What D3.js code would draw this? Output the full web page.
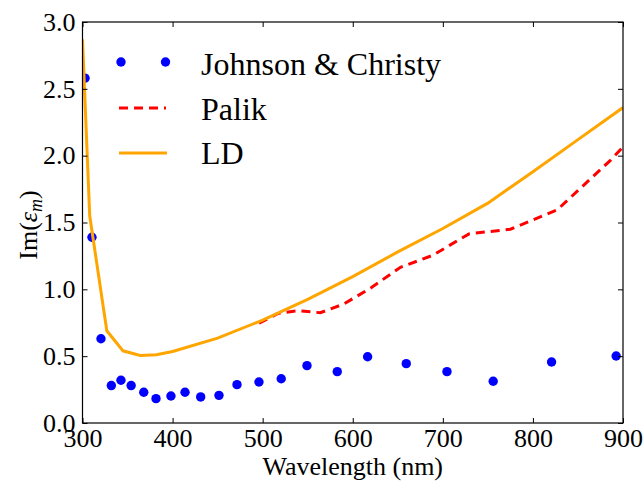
<!DOCTYPE html>
<html>
<head>
<meta charset="utf-8">
<script src="https://cdn.jsdelivr.net/npm/d3@7"></script>
<style>
  body { margin: 0; background: #fff; }
</style>
</head>
<body>
<svg id="chart" width="643" height="485"></svg>
<script>
// Johnson & Christy (points)
var jc_wl = [302.8, 310.5, 320.5, 332, 342.7, 354, 368, 381.6, 398.2, 413.8, 431.2, 451.5, 471.5, 495.9, 520.6, 549.2, 582.8, 616.5, 659.4, 704.6, 755.9, 820.7, 892.4]
var jc_val = [2.58, 1.39, 0.63, 0.28, 0.32, 0.28, 0.23, 0.182, 0.202, 0.23, 0.195, 0.207, 0.287, 0.307, 0.331, 0.429, 0.384, 0.496, 0.444, 0.384, 0.312, 0.456, 0.501]

// Palik (dashed)
var palik_wl = [496, 517, 539, 564, 590, 620, 653, 689, 729, 775, 827, 886, 900]
var palik_val = [0.746, 0.82, 0.84, 0.825, 0.89, 1.01, 1.165, 1.255, 1.415, 1.45, 1.595, 1.965, 2.065]

// LD model (solid)
var ld_wl = [300, 308, 327, 345, 364, 382, 400, 450, 500, 550, 600, 650, 700, 750, 800, 850, 900]
var ld_val = [2.87, 1.55, 0.69, 0.54, 0.505, 0.51, 0.535, 0.635, 0.77, 0.925, 1.095, 1.28, 1.455, 1.645, 1.88, 2.12, 2.36]

var x_ticks = [300, 400, 500, 600, 700, 800, 900]
var y_ticks = [0.0, 0.5, 1.0, 1.5, 2.0, 2.5, 3.0]

var FONT = "'Liberation Serif'"

var margin = { top: 22, right: 20, bottom: 62, left: 82.5 }
var width = 643 - margin.left - margin.right,
    height = 485 - margin.top - margin.bottom

var svg = d3.select('#chart')
var g = svg.append('g')
    .attr('transform', 'translate(' + margin.left + ',' + margin.top + ')')

var x = d3.scaleLinear().domain([300, 900]).range([0, width])
var y = d3.scaleLinear().domain([0, 3]).range([height, 0])

g.append('clipPath').attr('id', 'clip')
    .append('rect').attr('width', width).attr('height', height)

var plot = g.append('g').attr('clip-path', 'url(#clip)')

var line = d3.line()
    .x(function (d) { return x(d[0]) })
    .y(function (d) { return y(d[1]) })

// JC dots
plot.selectAll('.jc')
    .data(d3.zip(jc_wl, jc_val))
    .enter()
    .append('circle')
    .attr('class', 'jc')
    .attr('cx', function (d) { return x(d[0]) })
    .attr('cy', function (d) { return y(d[1]) })
    .attr('r', 4.7)
    .attr('fill', '#0000ff')

plot.append('path')
    .datum(d3.zip(palik_wl, palik_val))
    .attr('d', line)
    .attr('fill', 'none')
    .attr('stroke', '#ff0000')
    .attr('stroke-width', 3)
    .attr('stroke-dasharray', '9,6')

plot.append('path')
    .datum(d3.zip(ld_wl, ld_val))
    .attr('d', line)
    .attr('fill', 'none')
    .attr('stroke', '#ffa500')
    .attr('stroke-width', 3)

// axes, ticks inside on all four sides
var fmt = d3.format('.1f')
var tickLen = 5

g.append('g').attr('transform', 'translate(0,' + height + ')')
    .call(d3.axisBottom(x).tickValues(x_ticks).tickSizeInner(-tickLen).tickSizeOuter(0).tickPadding(6))
g.append('g')
    .call(d3.axisTop(x).tickValues(x_ticks).tickSizeInner(-tickLen).tickSizeOuter(0).tickFormat(''))
g.append('g')
    .call(d3.axisLeft(y).tickValues(y_ticks).tickSizeInner(-tickLen).tickSizeOuter(0).tickPadding(7).tickFormat(fmt))
g.append('g').attr('transform', 'translate(' + width + ',0)')
    .call(d3.axisRight(y).tickValues(y_ticks).tickSizeInner(-tickLen).tickSizeOuter(0).tickFormat(''))

g.selectAll('.domain').remove()
g.selectAll('.tick line').attr('stroke', '#000').attr('stroke-width', 1)
g.selectAll('.tick text')
    .attr('font-family', null)
    .style('font-family', FONT)
    .style('font-size', '26px')
    .attr('fill', '#000')
g.selectAll('g').attr('font-family', null).attr('font-size', null)

g.append('rect')
    .attr('width', width).attr('height', height)
    .attr('fill', 'none').attr('stroke', '#000').attr('stroke-width', 1.2)

// axis labels
svg.append('text')
    .attr('x', margin.left + width / 2)
    .attr('y', 475)
    .attr('text-anchor', 'middle')
    .style('font-family', FONT)
    .style('font-size', '26px')
    .text('Wavelength (nm)')

var ylab = svg.append('text')
    .attr('transform', 'translate(37,225) rotate(-90)')
    .attr('text-anchor', 'middle')
    .style('font-family', FONT)
    .style('font-size', '26px')
ylab.append('tspan').text('Im(')
ylab.append('tspan').style('font-style', 'italic').text('ε')
ylab.append('tspan').style('font-style', 'italic').style('font-size', '18px').attr('dy', 5).text('m')
ylab.append('tspan').attr('dy', -5).text(')')

// legend
var legend = svg.append('g')
var ly = [62, 108, 153]
var lbase = [75, 120, 164]
var lnames = ['Johnson & Christy', 'Palik', 'LD']

legend.selectAll('.ldot')
    .data([121, 165.5])
    .enter()
    .append('circle')
    .attr('cx', function (d) { return d })
    .attr('cy', ly[0])
    .attr('r', 4.7)
    .attr('fill', '#0000ff')

legend.append('line')
    .attr('x1', 119).attr('x2', 166).attr('y1', ly[1]).attr('y2', ly[1])
    .attr('stroke', '#ff0000').attr('stroke-width', 3).attr('stroke-dasharray', '9,6')

legend.append('line')
    .attr('x1', 119).attr('x2', 167).attr('y1', ly[2]).attr('y2', ly[2])
    .attr('stroke', '#ffa500').attr('stroke-width', 3)

legend.selectAll('.ltext')
    .data(lnames)
    .enter()
    .append('text')
    .attr('x', 201)
    .attr('y', function (d, i) { return lbase[i] })
    .style('font-family', FONT)
    .style('font-size', '32px')
    .text(function (d) { return d })
</script>
</body>
</html>
